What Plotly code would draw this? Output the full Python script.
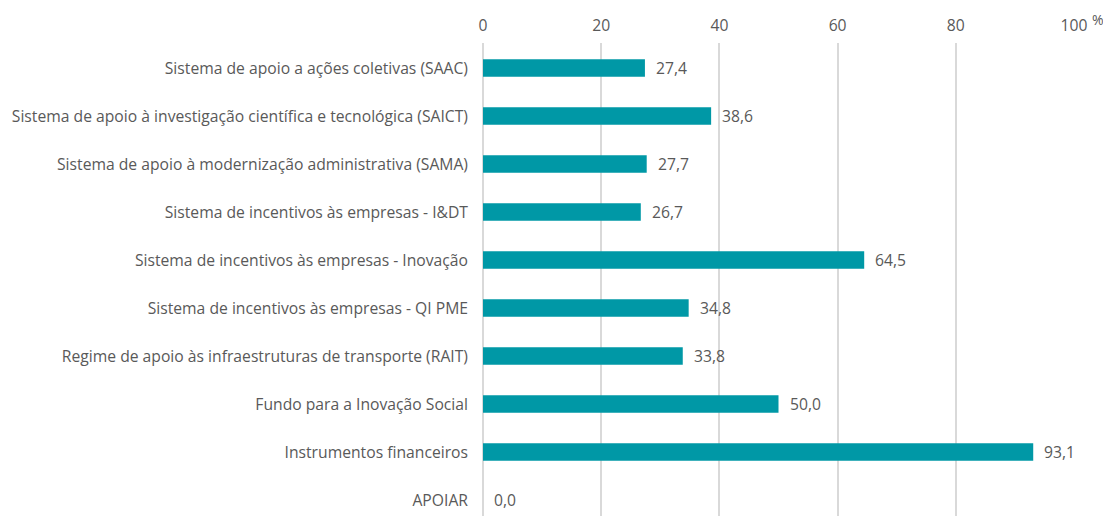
import plotly.graph_objects as go

categories = [
    "Sistema de apoio a ações coletivas (SAAC)",
    "Sistema de apoio à investigação científica e tecnológica (SAICT)",
    "Sistema de apoio à modernização administrativa (SAMA)",
    "Sistema de incentivos às empresas - I&DT",
    "Sistema de incentivos às empresas - Inovação",
    "Sistema de incentivos às empresas - QI PME",
    "Regime de apoio às infraestruturas de transporte (RAIT)",
    "Fundo para a Inovação Social",
    "Instrumentos financeiros",
    "APOIAR",
]
values = [27.4, 38.6, 27.7, 26.7, 64.5, 34.8, 33.8, 50.0, 93.1, 0.0]
x_ticks = [0, 20, 40, 60, 80, 100]

labels = [f"{v:.1f}".replace(".", ",") for v in values]

FONT = "'Open Sans', Lato, sans-serif"
FS = 15.7
GRAY = "#595959"
GRID = "#d9d9d9"

fig = go.Figure(go.Bar(
    y=categories, x=values, orientation="h",
    marker=dict(color="#0098A6", line=dict(width=0)),
    width=0.36,
    hoverinfo="skip",
))

annotations = [
    dict(x=v, y=c, text=t, xref="x", yref="y", xanchor="left", yanchor="middle",
         xshift=9, showarrow=False,
         font=dict(family=FONT, size=FS, color=GRAY))
    for c, v, t in zip(categories, values, labels)
]
annotations.append(dict(
    text="%", x=1.041, y=1.05, xref="paper", yref="paper",
    xanchor="center", yanchor="middle", showarrow=False,
    font=dict(family=FONT, size=14, color=GRAY),
))

fig.update_layout(
    width=1111, height=516,
    margin=dict(l=475, r=45, t=35, b=8, autoexpand=False),
    plot_bgcolor="white", paper_bgcolor="white",
    showlegend=False,
    font=dict(family=FONT, size=FS, color=GRAY),
    xaxis=dict(
        side="top", range=[0, 100], tickvals=x_ticks,
        showgrid=True, gridcolor=GRID, gridwidth=1.5,
        zeroline=True, zerolinecolor=GRID, zerolinewidth=1.5,
        showline=False, ticks="", automargin=False,
        tickfont=dict(family=FONT, size=FS, color=GRAY),
        ticklabelstandoff=8,
    ),
    yaxis=dict(
        categoryorder="array", categoryarray=categories,
        range=[9.333, -0.521], automargin=False,
        showgrid=False, zeroline=False, showline=False, ticks="",
        ticklabelstandoff=14,
        tickfont=dict(family=FONT, size=FS, color=GRAY),
    ),
    annotations=annotations,
)

fig.write_html("out.html")
